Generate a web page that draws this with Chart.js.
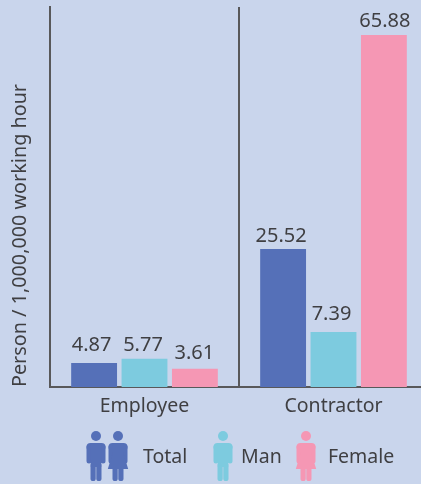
<!DOCTYPE html>
<html>
<head>
<meta charset="utf-8">
<script src="https://cdn.jsdelivr.net/npm/chart.js"></script>
<style>
html,body{margin:0;padding:0;background:#c9d5ec;overflow:hidden;width:421px;height:484px}
#wrap{position:absolute;left:0;top:0;width:421px;height:484px;overflow:hidden}
canvas{display:block}
</style>
</head>
<body>
<div id="wrap"><canvas id="c" width="430" height="484"></canvas></div>
<script>
const categories = ["Employee", "Contractor"];
const seriesNames = ["Total", "Man", "Female"];
// Printed value labels
const totalLabels = ["4.87", "25.52"];
const manLabels = ["5.77", "7.39"];
const femaleLabels = ["3.61", "65.88"];
// Bar heights as drawn in the picture, in axis units
const totalValues = [4.5, 25.8];
const manValues = [5.3, 10.3];
const femaleValues = [3.4, 65.88];
const axisMax = 71.1;
const yTitle = "Person / 1,000,000 working hour";

const FONT = '"Noto Sans"';
const TEXT = '#3f3f42';
const AXIS = '#58585a';
const BG = '#c9d5ec';
const BLUE = '#5570b8', CYAN = '#7dcbdf', PINK = '#f597b4';
const seriesLabels = [totalLabels, manLabels, femaleLabels];
// label nudges relative to each bar's top centre: [dx, baseline gap]
const labelNudges = [
  [[-2.5, 12], [-2, 7]],
  [[-1.5, 8], [-2, 12]],
  [[-0.5, 10], [1, 8]]
];

function limb(ctx, x1, y1, x2, y2, w) {
  ctx.lineWidth = w; ctx.lineCap = 'round';
  ctx.beginPath(); ctx.moveTo(x1, y1); ctx.lineTo(x2, y2); ctx.stroke();
}
function figureBase(ctx, x, y, c) {
  ctx.fillStyle = c; ctx.strokeStyle = c;
  ctx.beginPath(); ctx.arc(x, y + 5, 5, 0, Math.PI * 2); ctx.fill();
  ctx.beginPath(); ctx.roundRect(x - 9.5, y + 12, 19, 8, 4); ctx.fill();
  limb(ctx, x - 7, y + 16, x - 7, y + 30, 5);
  limb(ctx, x + 7, y + 16, x + 7, y + 30, 5);
  limb(ctx, x - 2.9, y + 34, x - 2.9, y + 47.5, 5.2);
  limb(ctx, x + 2.9, y + 34, x + 2.9, y + 47.5, 5.2);
}
function man(ctx, x, y, c) {
  figureBase(ctx, x, y, c);
  ctx.fillStyle = c;
  ctx.fillRect(x - 5.2, y + 14, 10.4, 22);
}
function woman(ctx, x, y, c) {
  figureBase(ctx, x, y, c);
  ctx.fillStyle = c;
  ctx.beginPath();
  ctx.moveTo(x - 5, y + 14); ctx.lineTo(x + 5, y + 14); ctx.lineTo(x + 5, y + 21);
  ctx.lineTo(x + 10.2, y + 38); ctx.lineTo(x - 10.2, y + 38); ctx.lineTo(x - 5, y + 21);
  ctx.closePath(); ctx.fill();
}

const valueLabels = {
  id: 'valueLabels',
  afterDatasetsDraw(chart) {
    const ctx = chart.ctx;
    ctx.save();
    ctx.font = '20px ' + FONT; ctx.fillStyle = TEXT;
    ctx.textAlign = 'center'; ctx.textBaseline = 'alphabetic';
    chart.data.datasets.forEach((d, i) => {
      chart.getDatasetMeta(i).data.forEach((bar, j) => {
        const n = labelNudges[i][j];
        ctx.fillText(seriesLabels[i][j], bar.x + n[0], bar.y - n[1]);
      });
    });
    ctx.restore();
  }
};
const figureLegend = {
  id: 'figureLegend',
  afterDraw(chart) {
    const ctx = chart.ctx, y = 431;
    ctx.save();
    man(ctx, 96, y, BLUE); woman(ctx, 118, y, BLUE);
    man(ctx, 223, y, CYAN); woman(ctx, 306, y, PINK);
    ctx.font = '19.5px ' + FONT; ctx.fillStyle = TEXT;
    ctx.textAlign = 'left'; ctx.textBaseline = 'alphabetic';
    ctx.fillText(seriesNames[0], 143, 463);
    ctx.fillText(seriesNames[1], 241, 463);
    ctx.fillText(seriesNames[2], 328, 463);
    ctx.restore();
  }
};

new Chart(document.getElementById('c'), {
  type: 'bar',
  data: {
    labels: categories,
    datasets: [
      { label: seriesNames[0], data: totalValues, backgroundColor: BLUE },
      { label: seriesNames[1], data: manValues, backgroundColor: CYAN },
      { label: seriesNames[2], data: femaleValues, backgroundColor: PINK }
    ]
  },
  options: {
    responsive: false, animation: false,
    layout: { padding: { top: 7, right: 2, left: 0, bottom: 0 } },
    datasets: { bar: { categoryPercentage: 0.8, barPercentage: 0.91 } },
    plugins: { legend: { display: false }, tooltip: { enabled: false } },
    scales: {
      x: {
        grid: { display: true, color: AXIS, lineWidth: 2, drawTicks: false, offset: true },
        border: { display: true, color: AXIS, width: 2 },
        ticks: { font: { family: FONT, size: 19.5 }, color: TEXT, padding: 8, maxRotation: 0 },
        afterFit(s) { s.height = 97; }
      },
      y: {
        min: 0, max: axisMax,
        grid: { display: false, drawTicks: false },
        border: { display: true, color: AXIS, width: 2 },
        ticks: { display: false },
        title: { display: true, text: yTitle, font: { family: FONT, size: 19.8 }, color: TEXT, padding: { top: 8, bottom: 0 }, align: 'start' },
        afterFit(s) { s.width = 50; }
      }
    }
  },
  plugins: [valueLabels, figureLegend]
});
</script>
</body>
</html>
